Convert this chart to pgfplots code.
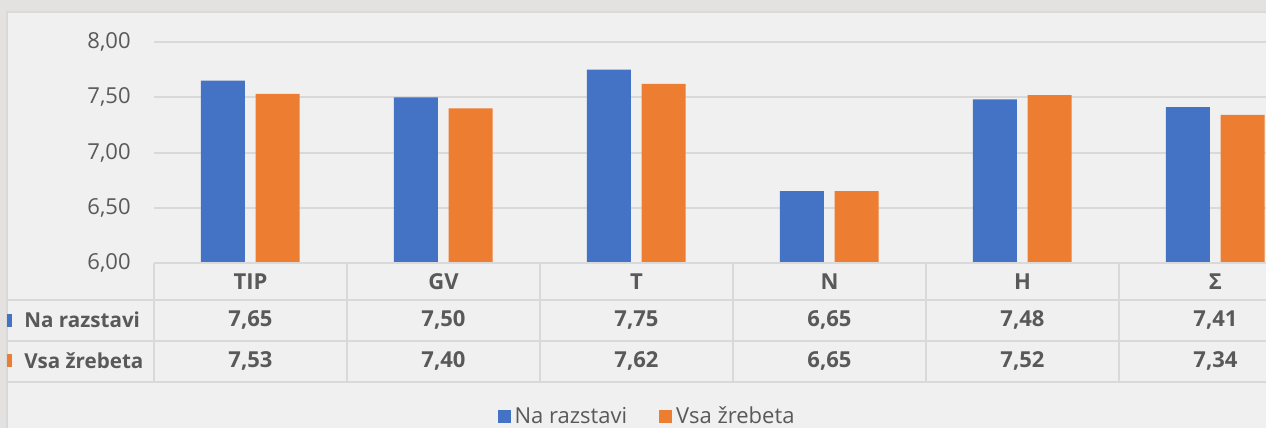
\documentclass[border=0pt]{standalone}
\usepackage{fontspec}
\setmainfont{Open Sans}
\usepackage{pgfplots}
\usepackage{pgfplotstable}
\pgfplotsset{compat=1.18}
\definecolor{cblue}{HTML}{4472C4}
\definecolor{corange}{HTML}{ED7D31}
\definecolor{txt}{HTML}{595959}
\definecolor{grd}{HTML}{D9D9D9}
\definecolor{bgc}{HTML}{F0F0F0}
\definecolor{outer}{HTML}{E4E2E0}

\pgfplotstableread{
x  na    vsa
0  7.65  7.53
1  7.50  7.40
2  7.75  7.62
3  6.65  6.65
4  7.48  7.52
5  7.41  7.34
}\datatab

\newcommand\tfont{\fontsize{11}{13}\selectfont}
\newcommand\lfont{\fontsize{10.3}{12}\selectfont}

\begin{document}
\begin{tikzpicture}
\useasboundingbox (0,0) rectangle (633pt,-214pt);
\clip (0,0) rectangle (633pt,-214pt);
\fill[outer] (0,0) rectangle (633pt,-214pt);
\fill[bgc] (3.5pt,-6pt) rectangle (640pt,-220pt);
\draw[grd, line width=0.75pt] (3.5pt,-220pt) -- (3.5pt,-6pt) -- (640pt,-6pt);

\begin{axis}[
  at={(77pt,-131.5pt)}, anchor=south west,
  scale only axis, width=579pt, height=110.5pt,
  xmin=-0.5, xmax=5.5, ymin=6, ymax=8,
  ytick={6,6.5,7,7.5,8}, xtick=\empty,
  ymajorgrids, grid style={grd, line width=1pt},
  axis line style={draw=none},
  major tick length=0pt,
  tick label style={font=\tfont, text=txt},
  yticklabel style={anchor=east, inner sep=0pt, xshift=-11.5pt},
  /pgf/number format/fixed,
  /pgf/number format/fixed zerofill,
  /pgf/number format/precision=2,
  /pgf/number format/use comma,
  /pgf/number format/assume math mode=true,
  ybar, bar width=22pt, bar shift=0pt,
  legend style={at={(0.4266,-0.695)}, anchor=center, draw=none, fill=none,
    font=\tfont, text=txt, legend columns=2,
    /tikz/every even column/.append style={column sep=14pt}},
  legend image code/.code={\fill[#1] (0pt,-3.25pt) rectangle (6.5pt,3.25pt);},
]
\addplot[fill=cblue, draw=none] table[x expr=\thisrow{x}-0.143, y=na] {\datatab};
\addlegendentry{Na razstavi}
\addplot[fill=corange, draw=none] table[x expr=\thisrow{x}+0.141, y=vsa] {\datatab};
\addlegendentry{Vsa žrebeta}
\end{axis}

% data table grid
\draw[grd, line width=1pt] (77pt,-131.5pt) -- (640pt,-131.5pt);
\foreach \yy in {-150, -170.25, -190.75} {
  \draw[grd, line width=1pt] (3.5pt,\yy pt) -- (640pt,\yy pt);
}
\foreach \k in {0,...,6} {
  \pgfmathsetmacro\xx{77+96.5*\k}
  \draw[grd, line width=1pt] (\xx pt,-131.5pt) -- (\xx pt,-190.75pt);
}
% header and rows
\foreach \i/\c/\a/\b in {0/TIP/7{,}65/7{,}53, 1/GV/7{,}50/7{,}40, 2/T/7{,}75/7{,}62, 3/N/6{,}65/6{,}65, 4/H/7{,}48/7{,}52, 5/Σ/7{,}41/7{,}34} {
  \pgfmathsetmacro\xc{125.25+96.5*\i}
  \node[font=\tfont\bfseries, text=txt] at (\xc pt,-140.75pt) {\c};
  \node[font=\tfont\bfseries, text=txt] at (\xc pt,-160pt) {\a};
  \node[font=\tfont\bfseries, text=txt] at (\xc pt,-180.25pt) {\b};
}
\fill[cblue] (3.5pt,-157pt) rectangle (6pt,-163.5pt);
\fill[corange] (3.5pt,-177pt) rectangle (6pt,-183.5pt);
\node[font=\lfont\bfseries, text=txt, anchor=west, inner sep=0pt] at (12pt,-160pt) {Na razstavi};
\node[font=\lfont\bfseries, text=txt, anchor=west, inner sep=0pt] at (12pt,-180.25pt) {Vsa žrebeta};
\end{tikzpicture}
\end{document}
